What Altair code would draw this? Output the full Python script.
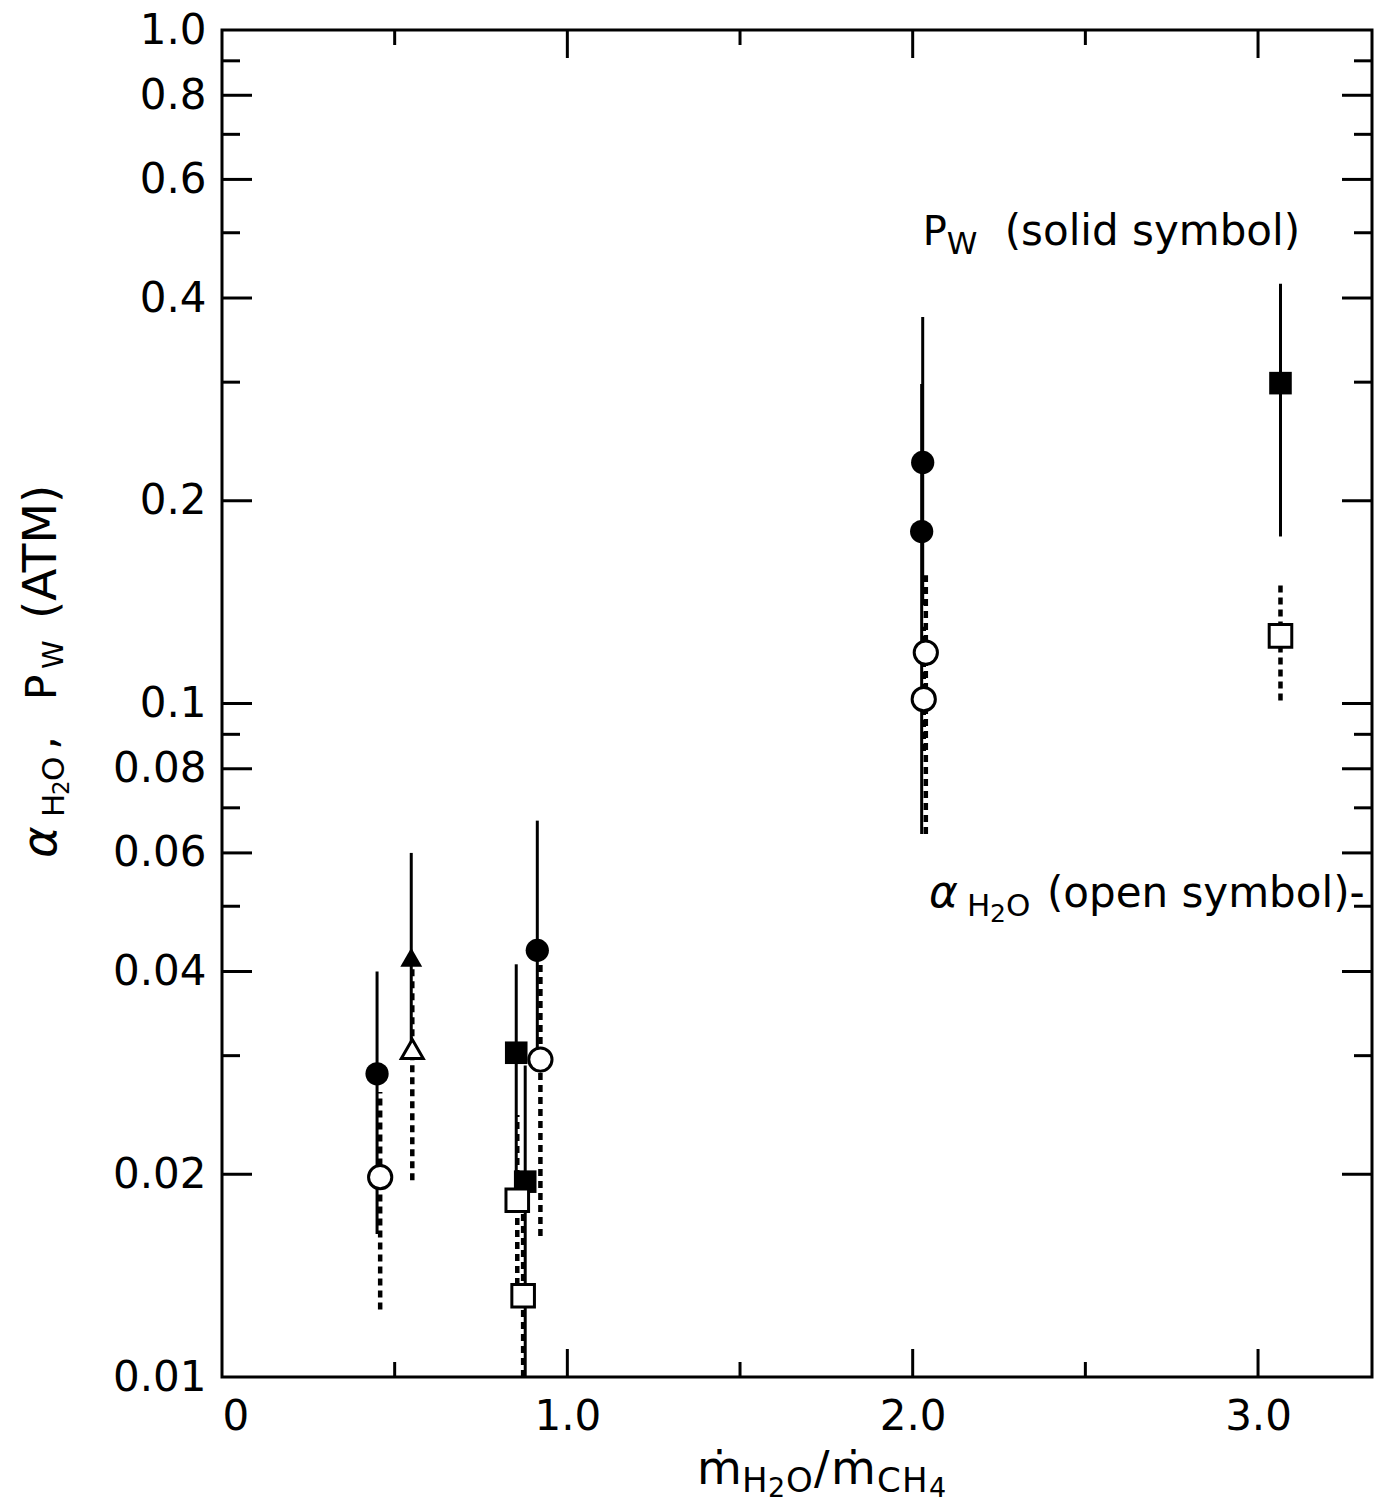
import altair as alt
import pandas as pd

# ---------------- data ----------------
# P_W  (solid symbols)
pw_x = [0.449, 0.548, 0.852, 0.878, 0.913, 2.029, 2.026, 3.065]
pw_y = [0.0282, 0.0420, 0.0303, 0.0195, 0.0430, 0.228, 0.180, 0.299]
pw_lo = [0.0163, 0.0300, 0.0195, 0.0100, 0.0300, 0.140, 0.064, 0.177]
pw_hi = [0.0400, 0.0600, 0.0410, 0.0290, 0.0670, 0.375, 0.298, 0.420]
pw_shape = ["circle", "triangle-up", "square", "square", "circle", "circle", "circle", "square"]

# alpha_H2O  (open symbols)
al_x = [0.458, 0.551, 0.855, 0.872, 0.922, 2.038, 2.032, 3.065]
al_y = [0.0198, 0.0307, 0.0183, 0.0132, 0.0296, 0.119, 0.1015, 0.126]
al_lo = [0.0126, 0.0196, 0.0137, 0.0100, 0.0162, 0.064, 0.085, 0.101]
al_hi = [0.0265, 0.0410, 0.0245, 0.0175, 0.0430, 0.155, 0.130, 0.151]
al_shape = ["circle", "triangle-up", "square", "square", "circle", "circle", "circle", "square"]

# axis ticks / labels
y_labeled = [0.01, 0.02, 0.04, 0.06, 0.08, 0.1, 0.2, 0.4, 0.6, 0.8, 1.0]
y_unlabeled = [0.03, 0.05, 0.07, 0.09, 0.3, 0.5, 0.7, 0.9]
x_labeled = [0, 1, 2, 3]
x_major_ticks = [1, 2, 3]
x_minor_ticks = [0.5, 1.5, 2.5]

# ---------------- layout ----------------
W, H = 1150, 1347
FONT = "DejaVu Sans"
NB = "\u00a0"
xs = alt.Scale(domain=[0, 3.33], nice=False, zero=False)
ys = alt.Scale(type="log", domain=[0.01, 1.0], nice=False)

xaxis = alt.Axis(values=x_labeled, ticks=False, domain=False, grid=False, title=None,
                 labelFont=FONT, labelFontSize=42, labelColor="black", labelPadding=19,
                 labelExpr="datum.value == 0 ? '0' : format(datum.value, '.1f')")
yaxis = alt.Axis(values=y_labeled, ticks=False, domain=False, grid=False, title=None,
                 labelFont=FONT, labelFontSize=42, labelColor="black", labelPadding=16,
                 labelExpr="datum.value >= 1 ? '1.0' : format(datum.value, '~g')")

def X(field=None, **kw):
    return alt.X(field, scale=xs, axis=xaxis, **kw) if field else alt.X(scale=xs, axis=xaxis, **kw)

def Y(field=None, **kw):
    return alt.Y(field, scale=ys, axis=yaxis, **kw) if field else alt.Y(scale=ys, axis=yaxis, **kw)

pw = pd.DataFrame({"x": pw_x, "y": pw_y, "lo": pw_lo, "hi": pw_hi, "shape": pw_shape})
al = pd.DataFrame({"x": al_x, "y": al_y, "lo": al_lo, "hi": al_hi, "shape": al_shape})

shape_dom = ["circle", "square", "triangle-up"]
size_rng = [540, 480, 680]

# error bars
solid_bars = alt.Chart(pw).mark_rule(color="black", strokeWidth=3).encode(
    x=X("x:Q"), y=Y("lo:Q"), y2="hi:Q")
dashed_bars = alt.Chart(al).mark_rule(color="black", strokeWidth=4.5, strokeDash=[7, 5]).encode(
    x=X("x:Q"), y=Y("lo:Q"), y2="hi:Q")

solid_pts = alt.Chart(pw).mark_point(filled=True, color="black", opacity=1).encode(
    x=X("x:Q"), y=Y("y:Q"),
    shape=alt.Shape("shape:N", scale=None, legend=None),
    size=alt.Size("shape:N", scale=alt.Scale(domain=shape_dom, range=size_rng), legend=None),
)
open_pts = alt.Chart(al).mark_point(filled=True, fill="white", stroke="black",
                                     strokeWidth=3, opacity=1, fillOpacity=1).encode(
    x=X("x:Q"), y=Y("y:Q"),
    shape=alt.Shape("shape:N", scale=None, legend=None),
    size=alt.Size("shape:N", scale=alt.Scale(domain=shape_dom, range=size_rng), legend=None),
)

# inward ticks on all four sides
def yticks(vals, length):
    d = pd.DataFrame({"v": vals})
    left = alt.Chart(d).mark_rule(color="black", strokeWidth=3).encode(
        y=Y("v:Q"), x=alt.value(0), x2=alt.value(length))
    right = alt.Chart(d).mark_rule(color="black", strokeWidth=3).encode(
        y=Y("v:Q"), x=alt.value(W - length), x2=alt.value(W))
    return [left, right]

def xticks(vals, length):
    d = pd.DataFrame({"v": vals})
    bottom = alt.Chart(d).mark_rule(color="black", strokeWidth=3).encode(
        x=X("v:Q"), y=alt.value(H), y2=alt.value(H - length))
    top = alt.Chart(d).mark_rule(color="black", strokeWidth=3).encode(
        x=X("v:Q"), y=alt.value(0), y2=alt.value(length))
    return [bottom, top]

ticks = (yticks(y_labeled[1:-1], 30) + yticks(y_unlabeled, 18)
         + xticks(x_major_ticks, 28) + xticks(x_minor_ticks, 15))

# rich text helper: segments = (text, fontsize, baseline shift, italic, offset along text in px)
def rich(segments, x, y, angle=0):
    layers = []
    for text, size, shift, italic, off in segments:
        m = alt.Chart(alt.Data(values=[{}])).mark_text(
            text=text, font=FONT, fontSize=size, align="left", baseline="alphabetic",
            angle=angle, dx=off, dy=shift, color="black",
            fontStyle="italic" if italic else "normal")
        layers.append(m.encode(x=x, y=y))
    return layers

texts = []
# P_W (solid symbol)
texts += rich([("P", 40, 0, False, 0), ("W", 31, 9, False, 24),
               ("(solid" + NB + "symbol)", 42, 0, False, 82)],
              X(datum=2.029), Y(datum=0.480))
# alpha_H2O (open symbol)
texts += rich([("α", 44, 0, True, 0), ("H", 31, 9, False, 38), ("2", 25, 15, False, 61),
               ("O", 31, 9, False, 77), ("(open" + NB + "symbol)-", 42, 0, False, 118)],
              X(datum=2.047), Y(datum=0.0499))
# x title
texts += rich([("ṁ", 46, 0, False, 0), ("H", 34, 8, False, 45), ("2", 27, 13, False, 71),
               ("O", 34, 8, False, 89), ("/", 46, 0, False, 117), ("ṁ", 46, 0, False, 134),
               ("C", 34, 8, False, 180), ("H", 34, 8, False, 205), ("4", 27, 13, False, 232)],
              alt.value(697 - 222), alt.value(1484 - 30))
# y title (rotated, reading upward)
texts += rich([("α", 48, 0, True, 0), ("H", 31, 8, False, 41), ("2", 23, 13, False, 63),
               ("O", 31, 8, False, 77), (",", 44, 0, False, 108), ("P", 42, 0, False, 158),
               ("W", 29, 7, False, 189), ("(ATM)", 47, 0, False, 239)],
              alt.value(56 - 222), alt.value(858 - 30), angle=270)

chart = alt.layer(solid_bars, dashed_bars, *ticks, solid_pts, open_pts, *texts).properties(
    width=W, height=H,
    autosize=alt.AutoSizeParams(type="none"),
    padding={"left": 214, "top": 22, "right": 10, "bottom": 125},
).configure_view(stroke="black", strokeWidth=3)

chart.save("out.html", embed_options={"renderer": "svg", "actions": False})
